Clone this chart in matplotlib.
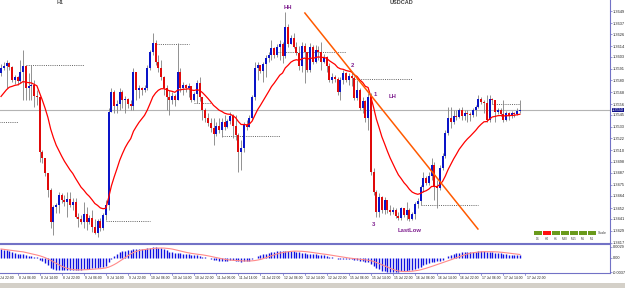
import numpy as np
import pandas as pd
import matplotlib
matplotlib.use("Agg")
import matplotlib.pyplot as plt
import matplotlib.transforms as mtransforms
from matplotlib.patches import Rectangle

plt.rcParams['font.family'] = ['Liberation Sans', 'DejaVu Sans']

symbol = 'USDCAD'
timeframe = 'H1'

# H1 bars, open of bar n is the close of bar n-1
first_open = 1.3587
close = [
    1.3592, 1.3594, 1.3597, 1.3593, 1.3580, 1.3583, 1.3579, 1.3588,
    1.3594, 1.3572, 1.3574, 1.3575, 1.3564, 1.3563, 1.3508, 1.3502,
    1.3487, 1.3470, 1.3438, 1.3453, 1.3455, 1.3465, 1.3460, 1.3458,
    1.3461, 1.3455, 1.3458, 1.3443, 1.3441, 1.3438, 1.3446, 1.3438,
    1.3442, 1.3433, 1.3427, 1.3439, 1.3432, 1.3445, 1.3455, 1.3548,
    1.3568, 1.3554, 1.3556, 1.3568, 1.3560, 1.3561, 1.3556, 1.3554,
    1.3588, 1.3570, 1.3572, 1.3570, 1.3572, 1.3592, 1.3608, 1.3617,
    1.3598, 1.3592, 1.3583, 1.3572, 1.3563, 1.3560, 1.3564, 1.3560,
    1.3588, 1.3572, 1.3575, 1.3572, 1.3574, 1.3560, 1.3566, 1.3577,
    1.3563, 1.3550, 1.3542, 1.3537, 1.3532, 1.3526, 1.3534, 1.3530,
    1.3538, 1.3533, 1.3539, 1.3544, 1.3534, 1.3525, 1.3508, 1.3512,
    1.3535, 1.3533, 1.3542, 1.3563, 1.3592, 1.3595, 1.3589, 1.3596,
    1.3602, 1.3605, 1.3612, 1.3605, 1.3613, 1.3616, 1.3604, 1.3633,
    1.3616, 1.3622, 1.3613, 1.3607, 1.3594, 1.3614, 1.3608, 1.3590,
    1.3613, 1.3598, 1.3610, 1.3608, 1.3598, 1.3603, 1.3594, 1.3580,
    1.3583, 1.3581, 1.3568, 1.3580, 1.3587, 1.3580, 1.3584, 1.3582,
    1.3562, 1.3570, 1.3552, 1.3559, 1.3542, 1.3563, 1.3488, 1.3468,
    1.3448, 1.3463, 1.3450, 1.3460, 1.3450, 1.3448, 1.3450, 1.3444,
    1.3442, 1.3452, 1.3445, 1.3450, 1.3441, 1.3446, 1.3456, 1.3459,
    1.3473, 1.3482, 1.3477, 1.3484, 1.3495, 1.3474, 1.3472, 1.3492,
    1.3504, 1.3527, 1.3542, 1.3538, 1.3544, 1.3543, 1.3550, 1.3544,
    1.3547, 1.3546, 1.3545, 1.3550, 1.3553, 1.3561, 1.3558, 1.3557,
    1.3540, 1.3561, 1.3560, 1.3548, 1.3550, 1.3546, 1.3540, 1.3547,
    1.3544, 1.3547, 1.3546, 1.3549, 1.3550,
]
high = [
    1.3596, 1.3598, 1.3600, 1.3598, 1.3594, 1.3585, 1.3584, 1.3600,
    1.3610, 1.3595, 1.3587, 1.3595, 1.3580, 1.3570, 1.3564, 1.3510,
    1.3502, 1.3487, 1.3472, 1.3455, 1.3457, 1.3468, 1.3467, 1.3465,
    1.3468, 1.3468, 1.3462, 1.3462, 1.3447, 1.3445, 1.3458, 1.3453,
    1.3445, 1.3450, 1.3441, 1.3441, 1.3442, 1.3447, 1.3460, 1.3552,
    1.3572, 1.3570, 1.3560, 1.3572, 1.3570, 1.3564, 1.3562, 1.3560,
    1.3592, 1.3588, 1.3575, 1.3573, 1.3575, 1.3595, 1.3610, 1.3627,
    1.3620, 1.3605, 1.3600, 1.3584, 1.3575, 1.3570, 1.3568, 1.3566,
    1.3617, 1.3592, 1.3578, 1.3576, 1.3577, 1.3574, 1.3568, 1.3580,
    1.3583, 1.3563, 1.3552, 1.3547, 1.3542, 1.3542, 1.3538, 1.3542,
    1.3542, 1.3545, 1.3541, 1.3548, 1.3546, 1.3545, 1.3527, 1.3520,
    1.3538, 1.3540, 1.3545, 1.3565, 1.3598, 1.3598, 1.3593, 1.3598,
    1.3605, 1.3608, 1.3620, 1.3613, 1.3616, 1.3620, 1.3618, 1.3648,
    1.3636, 1.3625, 1.3627, 1.3618, 1.3614, 1.3618, 1.3617, 1.3608,
    1.3617, 1.3615, 1.3615, 1.3614, 1.3618, 1.3606, 1.3604, 1.3597,
    1.3587, 1.3585, 1.3583, 1.3583, 1.3590, 1.3588, 1.3587, 1.3588,
    1.3584, 1.3580, 1.3572, 1.3563, 1.3560, 1.3567, 1.3567, 1.3492,
    1.3470, 1.3467, 1.3464, 1.3463, 1.3457, 1.3455, 1.3453, 1.3452,
    1.3448, 1.3453, 1.3452, 1.3458, 1.3452, 1.3448, 1.3458, 1.3462,
    1.3475, 1.3488, 1.3484, 1.3488, 1.3502, 1.3498, 1.3480, 1.3495,
    1.3507, 1.3530, 1.3553, 1.3553, 1.3550, 1.3550, 1.3552, 1.3553,
    1.3550, 1.3550, 1.3548, 1.3552, 1.3555, 1.3565, 1.3563, 1.3560,
    1.3565, 1.3565, 1.3562, 1.3560, 1.3552, 1.3552, 1.3560, 1.3549,
    1.3548, 1.3549, 1.3548, 1.3552, 1.3560,
]
low = [
    1.3584, 1.3590, 1.3572, 1.3590, 1.3578, 1.3576, 1.3575, 1.3577,
    1.3560, 1.3560, 1.3560, 1.3560, 1.3553, 1.3555, 1.3498, 1.3497,
    1.3484, 1.3463, 1.3432, 1.3425, 1.3447, 1.3447, 1.3457, 1.3454,
    1.3443, 1.3453, 1.3450, 1.3442, 1.3433, 1.3436, 1.3432, 1.3430,
    1.3436, 1.3428, 1.3426, 1.3423, 1.3429, 1.3430, 1.3440, 1.3450,
    1.3548, 1.3547, 1.3547, 1.3550, 1.3552, 1.3547, 1.3552, 1.3550,
    1.3550, 1.3560, 1.3562, 1.3565, 1.3568, 1.3570, 1.3590, 1.3605,
    1.3595, 1.3588, 1.3580, 1.3565, 1.3550, 1.3545, 1.3556, 1.3554,
    1.3560, 1.3568, 1.3565, 1.3568, 1.3563, 1.3558, 1.3559, 1.3557,
    1.3559, 1.3540, 1.3538, 1.3534, 1.3528, 1.3515, 1.3524, 1.3527,
    1.3523, 1.3530, 1.3532, 1.3536, 1.3522, 1.3520, 1.3488, 1.3490,
    1.3508, 1.3530, 1.3533, 1.3540, 1.3560, 1.3580, 1.3587, 1.3578,
    1.3583, 1.3598, 1.3600, 1.3602, 1.3603, 1.3600, 1.3597, 1.3602,
    1.3613, 1.3616, 1.3612, 1.3605, 1.3590, 1.3588, 1.3577, 1.3588,
    1.3588, 1.3596, 1.3597, 1.3600, 1.3590, 1.3597, 1.3588, 1.3578,
    1.3577, 1.3578, 1.3565, 1.3560, 1.3576, 1.3578, 1.3575, 1.3574,
    1.3560, 1.3560, 1.3550, 1.3547, 1.3538, 1.3530, 1.3485, 1.3465,
    1.3443, 1.3443, 1.3447, 1.3446, 1.3447, 1.3445, 1.3446, 1.3442,
    1.3440, 1.3440, 1.3443, 1.3440, 1.3439, 1.3440, 1.3441, 1.3452,
    1.3455, 1.3468, 1.3475, 1.3475, 1.3480, 1.3460, 1.3452, 1.3470,
    1.3490, 1.3502, 1.3525, 1.3532, 1.3536, 1.3540, 1.3542, 1.3540,
    1.3540, 1.3538, 1.3539, 1.3543, 1.3544, 1.3552, 1.3556, 1.3547,
    1.3538, 1.3538, 1.3556, 1.3538, 1.3546, 1.3544, 1.3538, 1.3539,
    1.3540, 1.3542, 1.3543, 1.3545, 1.3547,
]

# indicator settings and the averages carried in from before the first visible bar
ma_period = 17
ma_seed = 1.3560
macd_fast, macd_slow, macd_signal = 12, 26, 9
fast_seed, slow_seed = 1.3598, 1.3572

# time axis: one label every 8 bars
label_bars = list(range(-2, 191, 8))
time_labels = [
    '5 Jul 22:00', '8 Jul 06:00', '8 Jul 14:00', '8 Jul 22:00', '9 Jul 06:00',
    '9 Jul 14:00', '9 Jul 22:00', '10 Jul 06:00', '10 Jul 14:00', '10 Jul 22:00',
    '11 Jul 06:00', '11 Jul 14:00', '11 Jul 22:00', '12 Jul 06:00', '12 Jul 14:00',
    '12 Jul 22:00', '15 Jul 06:00', '15 Jul 14:00', '15 Jul 22:00', '16 Jul 06:00',
    '16 Jul 14:00', '16 Jul 22:00', '17 Jul 06:00', '17 Jul 14:00', '17 Jul 22:00',
]
price_ticks = [
    1.3649, 1.3637, 1.3626, 1.3614, 1.3603, 1.3591, 1.3580, 1.3568, 1.3556,
    1.3545, 1.3533, 1.3522, 1.3510, 1.3498, 1.3487, 1.3475, 1.3464, 1.3452,
    1.3441, 1.3429, 1.3417,
]

# hand drawn objects on the chart
level_price = [1.3595, 1.3538, 1.3616, 1.3557, 1.3524, 1.3608, 1.3581, 1.3455, 1.3439, 1.3556]
level_start = [9, -1, 56, 70, 80, 100, 127, 152, 38, 178]
level_end = [30, 6, 68, 76, 101, 125, 149, 173, 54, 188]
trend_bar = [110.1, 172.8]
trend_price = [1.3647, 1.3431]
note_text = ['HH', '2', '1', 'LH', '3', 'LastLow']
note_bar = [104.0, 127.2, 135.5, 142.0, 134.8, 148.2]
note_price = [1.3653, 1.3595, 1.3565, 1.3564, 1.3436, 1.3430]

scale_frames = ['D1', 'H4', 'H1', 'M30', 'M15', 'M5', 'M1']
scale_state = ['up', 'down', 'up', 'up', 'up', 'up', 'up']


def ema(values, period, seed):
    k = 2.0 / (period + 1)
    out, prev = [], seed
    for v in values:
        prev = prev + k * (v - prev)
        out.append(prev)
    return np.array(out)


c = np.array(close)
o = np.array([first_open] + close[:-1])
h = np.maximum(np.array(high), np.maximum(o, c))
l = np.minimum(np.array(low), np.minimum(o, c))
x = np.arange(len(c))

ma = ema(c, ma_period, ma_seed)
macd = ema(c, macd_fast, fast_seed) - ema(c, macd_slow, slow_seed)
signal = pd.Series(macd).rolling(macd_signal, min_periods=1).mean().values

W, H = 625, 288
frame = '#7272c6'
purple = '#7f1f8f'


def box(x0, y0, x1, y1):
    return [x0 / W, 1 - y1 / H, (x1 - x0) / W, (y1 - y0) / H]


fig = plt.figure(figsize=(6.25, 2.88), dpi=100)
ax = fig.add_axes(box(0, 0, 610, 243))
ax2 = fig.add_axes(box(0, 244, 610, 273))

x_lim = (-1 / 2.76, 609 / 2.76)

# main window
for i, (start, end) in enumerate(zip(level_start, level_end)):
    ax.plot([start, end], [level_price[i]] * 2, color='#505050', lw=0.6,
            linestyle=(0, (1.2, 1.4)), zorder=1)
ax.axhline(c[-1], color='#b4b4b4', lw=0.8, zorder=1)

up = c >= o
ax.vlines(x, l, h, color='#808080', lw=0.6, zorder=2)
body = np.maximum(np.abs(c - o), 0.00006)
ax.bar(x[up], body[up], bottom=np.minimum(o, c)[up], width=0.72,
       color='#0a14c8', linewidth=0, zorder=3)
ax.bar(x[~up], body[~up], bottom=np.minimum(o, c)[~up], width=0.72,
       color='#e00a0a', linewidth=0, zorder=3)

ax.plot(x, ma, color='#ff0000', lw=0.9, zorder=4)
ax.plot(trend_bar, trend_price, color='#ff5a00', lw=1.1, zorder=5)

for t, b, p in zip(note_text, note_bar, note_price):
    ax.text(b, p, t, color=purple, fontsize=4.2, fontweight='bold',
            ha='center', va='center', zorder=6)

ax.set_xlim(*x_lim)
ax.set_ylim(1.3417, 1.3660)
ax.set_xticks([])
ax.yaxis.tick_right()
ax.set_yticks(price_ticks)
ax.set_yticklabels([f'{v:.4f}' for v in price_ticks])
ax.tick_params(axis='y', length=1.2, width=0.5, color=frame, pad=0.6,
               labelsize=2.8, labelcolor='#202020')
for side in ['top', 'left']:
    ax.spines[side].set_visible(False)
for side in ['right', 'bottom']:
    ax.spines[side].set_color(frame)
    ax.spines[side].set_linewidth(0.8)

# current price marker on the scale
mix = mtransforms.blended_transform_factory(ax.transAxes, ax.transData)
ax.text(1.0035, c[-1], f'{c[-1]:.4f}', transform=mix, fontsize=2.8,
        color='white', ha='left', va='center', zorder=10,
        bbox=dict(boxstyle='square,pad=0.12', fc='#14148c', ec='none'))

# MACD window, scaled to the visible range like the terminal does
mn, mx = macd.min(), macd.max()
rng = mx - mn
ax2.vlines(x, 0, macd, color='#1010e0', lw=1.0)
ax2.plot(x, signal, color='#ff8a8a', lw=0.8)
ax2.set_xlim(*x_lim)
ax2.set_ylim(mn - 0.04 * rng, mx + 0.12 * rng)
ax2.set_xticks([])
ax2.yaxis.tick_right()
ax2.set_yticks([mx, 0, mn])
ax2.set_yticklabels([f'{mx:.4f}', '0.00', f'{mn:.4f}'])
ax2.tick_params(axis='y', length=1.2, width=0.5, color=frame, pad=0.6,
                labelsize=2.8, labelcolor='#202020')
ax2.spines['left'].set_visible(False)
for side in ['top', 'right', 'bottom']:
    ax2.spines[side].set_color(frame)
    ax2.spines[side].set_linewidth(0.8)

xmix = mtransforms.blended_transform_factory(ax2.transData, ax2.transAxes)
for b, t in zip(label_bars, time_labels):
    ax2.plot([b, b], [0, -0.08], color=frame, lw=0.5, transform=xmix, clip_on=False)
    ax2.text(b + 0.4, -0.1, t, transform=xmix, fontsize=2.4, color='#202020',
             ha='left', va='top', clip_on=False)

# titles
fig.text(60 / W, 1 - 3 / H, timeframe, fontsize=4, color='#606060',
         fontweight='bold', ha='center', va='center')
fig.text(402 / W, 1 - 3 / H, symbol, fontsize=4, color='#404040',
         fontweight='bold', ha='center', va='center')

# multi timeframe strip
for k, (tf, st) in enumerate(zip(scale_frames, scale_state)):
    x0 = 534 + 9 * k
    col = '#ff1010' if st == 'down' else '#6a9a1c'
    fig.add_artist(Rectangle((x0 / W, 1 - 235 / H), 8 / W, 4 / H,
                             transform=fig.transFigure, fc=col, ec='none'))
    fig.text((x0 + 4) / W, 1 - 238.5 / H, tf, fontsize=2.2, color='#404040',
             ha='center', va='center')
fig.text(598 / W, 1 - 233 / H, 'Scale', fontsize=2.6, color='#404040',
         ha='left', va='center')

# status bar
fig.add_artist(Rectangle((0, 0), 1, 5 / H, transform=fig.transFigure,
                         fc='#d4d0c8', ec='none'))

fig.savefig('out.png', dpi=100)
